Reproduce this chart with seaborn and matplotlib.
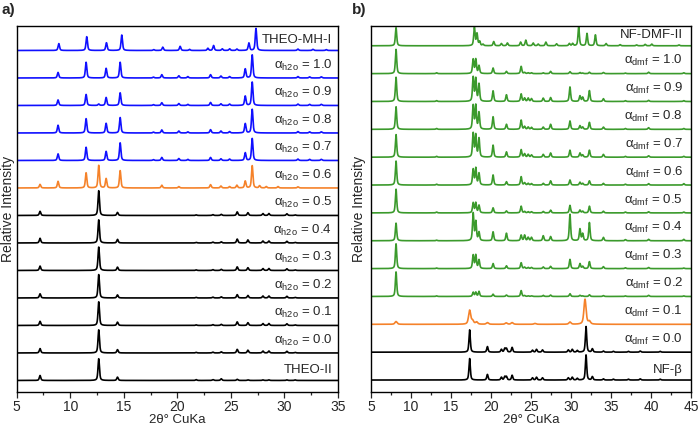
import numpy as np
import matplotlib
matplotlib.use("Agg")
import matplotlib.pyplot as plt
import matplotlib.transforms as mtransforms
from matplotlib.ticker import MultipleLocator
import seaborn as sns

# ---------------- data (peak positions in 2theta, heights in strip units) -------------
# Panel a
a_labels = ["THEO-MH-I", "1.0", "0.9", "0.8", "0.7", "0.6", "0.5", "0.4", "0.3", "0.2", "0.1", "0.0", "THEO-II"]
theo_mh_pos = [8.93, 11.54, 13.38, 14.81, 17.8, 18.64, 20.26, 21.14, 22.85, 23.38, 24.19, 24.88, 25.56, 26.68, 27.34, 31.26, 32.66, 33.91]
theo_mh_h = [0.25, 0.50, 0.28, 0.56, 0.03, 0.12, 0.15, 0.04, 0.08, 0.18, 0.06, 0.06, 0.05, 0.27, 0.80, 0.05, 0.04, 0.03]
mh_pos = [8.86, 11.48, 12.66, 13.35, 14.66, 17.77, 18.55, 20.14, 20.98, 23.1, 24.07, 24.88, 26.34, 26.99, 31.26, 32.35, 33.44]
mh_h_10 = [0.20, 0.57, 0.00, 0.35, 0.57, 0.03, 0.12, 0.08, 0.05, 0.12, 0.07, 0.05, 0.33, 0.84, 0.05, 0.04, 0.04]
mh_h_09 = [0.20, 0.40, 0.05, 0.29, 0.46, 0.03, 0.10, 0.07, 0.04, 0.11, 0.06, 0.05, 0.34, 0.85, 0.05, 0.04, 0.04]
mh_h_08 = [0.28, 0.52, 0.00, 0.35, 0.56, 0.03, 0.11, 0.07, 0.04, 0.12, 0.07, 0.05, 0.34, 0.86, 0.05, 0.04, 0.04]
mh_h_07 = [0.24, 0.48, 0.00, 0.33, 0.64, 0.03, 0.11, 0.07, 0.04, 0.11, 0.06, 0.05, 0.28, 0.80, 0.05, 0.04, 0.04]
mix_a_pos = [7.18, 8.86, 11.48, 12.66, 13.35, 14.66, 18.55, 20.14, 23.1, 24.07, 24.88, 25.56, 26.34, 26.99, 27.68, 28.3, 29.4, 31.26]
mix_a_h_06 = [0.13, 0.24, 0.55, 0.82, 0.34, 0.63, 0.10, 0.05, 0.12, 0.07, 0.05, 0.10, 0.25, 0.81, 0.08, 0.05, 0.05, 0.04]
form2_pos = [7.18, 12.66, 14.41, 21.76, 23.32, 24.1, 25.59, 26.59, 27.99, 28.55, 30.23, 31.0]
form2_h_05 = [0.15, 0.90, 0.11, 0.02, 0.03, 0.04, 0.13, 0.10, 0.07, 0.07, 0.06, 0.02]
form2_h_04 = [0.17, 0.84, 0.13, 0.02, 0.03, 0.04, 0.14, 0.11, 0.07, 0.07, 0.06, 0.02]
form2_h_03 = [0.16, 0.85, 0.12, 0.02, 0.03, 0.04, 0.13, 0.10, 0.07, 0.07, 0.06, 0.02]
form2_h_02 = [0.15, 0.85, 0.11, 0.02, 0.03, 0.04, 0.12, 0.09, 0.07, 0.07, 0.06, 0.02]
form2_h_01 = [0.15, 0.86, 0.12, 0.02, 0.03, 0.04, 0.13, 0.10, 0.07, 0.07, 0.06, 0.02]
form2_h_00 = [0.16, 0.84, 0.12, 0.02, 0.03, 0.04, 0.13, 0.10, 0.07, 0.07, 0.06, 0.02]
theo2_h = [0.18, 0.79, 0.12, 0.03, 0.03, 0.06, 0.04, 0.02, 0.02, 0.02, 0.02, 0.02]

# Panel b
b_labels = ["NF-DMF-II", "1.0", "0.9", "0.8", "0.7", "0.6", "0.5", "0.4", "0.3", "0.2", "0.1", "0.0", "NF-\u03b2"]
dmf2_pos = [8.13, 17.92, 18.25, 18.58, 19.0, 20.34, 21.3, 22.05, 23.7, 24.35, 25.27, 25.9, 26.86, 28.2, 29.79, 30.2, 30.96, 32.0, 33.05, 34.38, 36.14, 38.2, 39.27, 40.1, 43.5]
dmf2_h = [0.65, 0.65, 0.43, 0.15, 0.05, 0.15, 0.08, 0.10, 0.13, 0.20, 0.10, 0.06, 0.13, 0.07, 0.08, 0.08, 0.69, 0.44, 0.39, 0.08, 0.04, 0.03, 0.05, 0.06, 0.03]
dmf_pos = [8.13, 13.2, 17.77, 18.1, 18.5, 20.26, 21.93, 23.77, 24.2, 24.65, 25.06, 26.53, 27.45, 29.87, 31.12, 31.46, 32.3, 34.05, 36.8, 39.7, 44.1]
dmf_h_10 = [0.87, 0.03, 0.51, 0.51, 0.28, 0.20, 0.08, 0.26, 0.04, 0.03, 0.03, 0.03, 0.08, 0.07, 0.04, 0.02, 0.05, 0.04, 0.02, 0.05, 0.03]
dmf_h_09 = [0.87, 0.03, 0.86, 0.81, 0.62, 0.38, 0.24, 0.27, 0.12, 0.12, 0.10, 0.12, 0.14, 0.52, 0.20, 0.15, 0.39, 0.10, 0.03, 0.04, 0.03]
dmf_h_08 = [0.81, 0.03, 0.85, 0.85, 0.60, 0.45, 0.18, 0.33, 0.10, 0.08, 0.07, 0.08, 0.18, 0.30, 0.13, 0.08, 0.25, 0.08, 0.03, 0.06, 0.03]
dmf_h_07 = [0.81, 0.03, 0.85, 0.79, 0.67, 0.43, 0.19, 0.27, 0.12, 0.10, 0.08, 0.10, 0.15, 0.25, 0.15, 0.08, 0.25, 0.10, 0.03, 0.05, 0.03]
dmf_h_06 = [0.86, 0.03, 0.56, 0.60, 0.42, 0.36, 0.12, 0.30, 0.08, 0.06, 0.05, 0.06, 0.15, 0.18, 0.10, 0.06, 0.15, 0.06, 0.03, 0.05, 0.05]
dmf_h_05 = [0.85, 0.03, 0.36, 0.36, 0.27, 0.18, 0.07, 0.24, 0.05, 0.04, 0.04, 0.05, 0.10, 0.27, 0.10, 0.06, 0.24, 0.06, 0.03, 0.04, 0.03]
dmf_h_04 = [0.63, 0.02, 0.98, 0.68, 0.30, 0.32, 0.27, 0.20, 0.20, 0.12, 0.12, 0.18, 0.15, 0.95, 0.42, 0.25, 0.65, 0.12, 0.04, 0.05, 0.05]
dmf_h_03 = [0.89, 0.02, 0.48, 0.48, 0.31, 0.18, 0.10, 0.21, 0.05, 0.04, 0.04, 0.06, 0.08, 0.33, 0.18, 0.08, 0.25, 0.07, 0.03, 0.04, 0.02]
dmf_h_02 = [0.88, 0.02, 0.15, 0.15, 0.18, 0.08, 0.05, 0.21, 0.03, 0.02, 0.02, 0.04, 0.05, 0.10, 0.04, 0.02, 0.06, 0.03, 0.02, 0.04, 0.02]
mix_b_pos = [8.13, 17.33, 17.7, 18.2, 19.55, 21.9, 22.64, 25.5, 29.87, 31.75, 32.3]
mix_b_h_01 = [0.10, 0.50, 0.12, 0.08, 0.06, 0.05, 0.06, 0.03, 0.08, 0.90, 0.10]
beta_pos = [17.33, 19.55, 21.3, 21.72, 21.93, 22.64, 25.19, 25.69, 26.44, 29.66, 30.16, 30.79, 31.88, 32.67, 34.05, 35.3, 37.18, 38.65, 41.15]
beta_h_00 = [0.80, 0.20, 0.10, 0.13, 0.13, 0.17, 0.07, 0.10, 0.08, 0.08, 0.10, 0.06, 0.92, 0.12, 0.04, 0.03, 0.03, 0.04, 0.03]
beta_h_theo = [0.77, 0.20, 0.10, 0.12, 0.12, 0.17, 0.08, 0.10, 0.08, 0.08, 0.10, 0.06, 0.90, 0.12, 0.04, 0.03, 0.03, 0.04, 0.03]

# ---------------- style -------------
sns.set_theme(style="white")
plt.rcParams["font.family"] = ["Liberation Sans", "DejaVu Sans"]
plt.rcParams["mathtext.fontset"] = "custom"
plt.rcParams["mathtext.rm"] = "Liberation Sans"
plt.rcParams["mathtext.it"] = "Liberation Sans:italic"

BLUE = "#1010ff"
ORANGE = "#f5822a"
GREEN = "#3b9a2c"
BLACK = "#000000"


def pattern(x, pos, h, w):
    y = np.zeros_like(x)
    hw = w / 2.0
    for p, hh in zip(pos, h):
        d = (x - p) / hw
        y += hh * (0.55 / (1 + d ** 2) + 0.45 * np.exp(-np.log(2) * d ** 2))
    return y


fig = plt.figure(figsize=(6.99, 4.29), dpi=100)
axa = fig.add_axes([16.7 / 699, 1 - 392 / 429, (338 - 16.7) / 699, (392 - 26) / 429])
axb = fig.add_axes([371 / 699, 1 - 392 / 429, (691 - 371) / 699, (392 - 26) / 429])

xa = np.arange(5, 35.0001, 0.01)
xb = np.arange(5, 45.0001, 0.01)

a_series = [
    (theo_mh_pos, theo_mh_h, BLUE), (mh_pos, mh_h_10, BLUE), (mh_pos, mh_h_09, BLUE),
    (mh_pos, mh_h_08, BLUE), (mh_pos, mh_h_07, BLUE), (mix_a_pos, mix_a_h_06, ORANGE),
    (form2_pos, form2_h_05, BLACK), (form2_pos, form2_h_04, BLACK), (form2_pos, form2_h_03, BLACK),
    (form2_pos, form2_h_02, BLACK), (form2_pos, form2_h_01, BLACK), (form2_pos, form2_h_00, BLACK),
    (form2_pos, theo2_h, BLACK),
]
b_series = [
    (dmf2_pos, dmf2_h, GREEN), (dmf_pos, dmf_h_10, GREEN), (dmf_pos, dmf_h_09, GREEN),
    (dmf_pos, dmf_h_08, GREEN), (dmf_pos, dmf_h_07, GREEN), (dmf_pos, dmf_h_06, GREEN),
    (dmf_pos, dmf_h_05, GREEN), (dmf_pos, dmf_h_04, GREEN), (dmf_pos, dmf_h_03, GREEN),
    (dmf_pos, dmf_h_02, GREEN), (mix_b_pos, mix_b_h_01, ORANGE), (beta_pos, beta_h_00, BLACK),
    (beta_pos, beta_h_theo, BLACK),
]


def draw(ax, x, series, labels, width, orange_w, sub, xmax, ylim, label_x):
    n = len(series)
    trans = mtransforms.blended_transform_factory(ax.transAxes, ax.transData)
    for i, ((pos, h, c), lab) in enumerate(zip(series, labels)):
        off = n - 1 - i
        w = width * (orange_w if c == ORANGE else 1.0)
        y = pattern(x, pos, h, w) + off
        sns.lineplot(x=x, y=y, ax=ax, color=c, linewidth=1.2, estimator=None, sort=False)
        if lab[0].isdigit():
            txt = "\u03b1$_{\\mathrm{" + sub + "}}$ = " + lab
            ax.text(label_x, off + 0.34, txt, transform=trans, ha="right", va="baseline", fontsize=9.5)
        else:
            ax.text(label_x, off + 0.27, lab, transform=trans, ha="right", va="baseline", fontsize=9.5)
    ax.set_xlim(5, xmax)
    ax.set_ylim(*ylim)
    ax.set_yticks([])
    ax.set_ylabel("")
    ax.set_xlabel("2\u03b8\u00b0 CuKa", fontsize=9.5, labelpad=0)
    ax.xaxis.set_major_locator(MultipleLocator(5))
    ax.xaxis.set_minor_locator(MultipleLocator(2.5))
    ax.tick_params(axis="x", which="major", direction="out", length=4, width=0.9, labelsize=10, pad=2, bottom=True)
    ax.tick_params(axis="x", which="minor", direction="out", length=2.5, width=0.9, bottom=True)
    for s in ax.spines.values():
        s.set_color("black")
        s.set_linewidth(1.0)


draw(axa, xa, a_series, a_labels, 0.16, 1.0, "h2o", 35, (-0.42, 12.89), 0.982)
draw(axb, xb, b_series, b_labels, 0.2, 1.6, "dmf", 45, (-0.43, 12.71), 0.975)

fig.text(8 / 699, 1 - 209 / 429, "Relative Intensity", rotation=90, ha="center", va="center", fontsize=10)
fig.text(359 / 699, 1 - 209 / 429, "Relative Intensity", rotation=90, ha="center", va="center", fontsize=10)
fig.text(1 / 699, 1 - 10 / 429, "a)", fontweight="bold", fontsize=11, ha="left", va="center")
fig.text(352 / 699, 1 - 10 / 429, "b)", fontweight="bold", fontsize=11, ha="left", va="center")

fig.savefig("out.png", dpi=100)
